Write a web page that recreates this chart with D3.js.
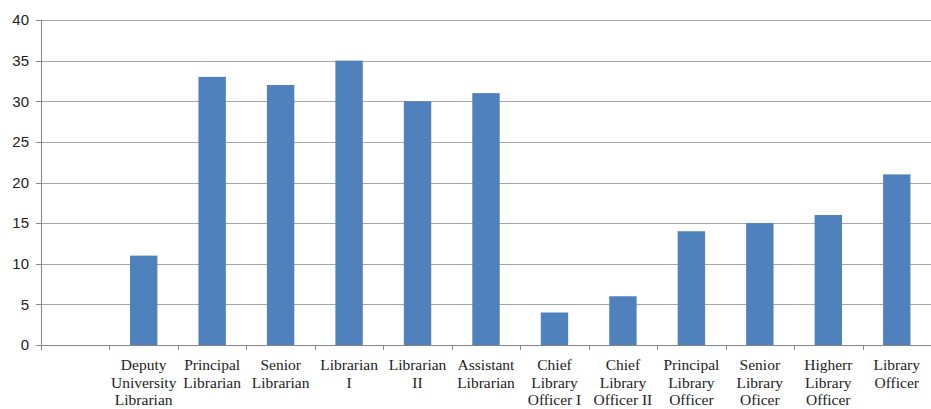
<!DOCTYPE html>
<html>
<head>
<meta charset="utf-8">
<script src="https://cdn.jsdelivr.net/npm/d3@7"></script>
<style>
body { margin: 0; background: #fff; }
</style>
</head>
<body>
<svg id="mainSvg" width="931" height="409"></svg>
<script>
var categories = ["", "Deputy University Librarian", "Principal Librarian", "Senior Librarian",
	"Librarian I", "Librarian II", "Assistant Librarian", "Chief Library Officer I",
	"Chief Library Officer II", "Principal Library Officer", "Senior Library Oficer",
	"Higherr Library Officer", "Library Officer"];
var labelLines = [[], ["Deputy", "University", "Librarian"], ["Principal", "Librarian"], ["Senior", "Librarian"],
	["Librarian", "I"], ["Librarian", "II"], ["Assistant", "Librarian"], ["Chief", "Library", "Officer I"],
	["Chief", "Library", "Officer II"], ["Principal", "Library", "Officer"], ["Senior", "Library", "Oficer"],
	["Higherr", "Library", "Officer"], ["Library", "Officer"]];
var values = [null, 11, 33, 32, 35, 30, 31, 4, 6, 14, 15, 16, 21];
var yTicks = [0, 5, 10, 15, 20, 25, 30, 35, 40];

var svg = d3.select("#mainSvg");
var plotLeft = 41, plotRight = 931, plotTop = 20, plotBottom = 345;

var x = d3.scaleBand().domain(categories.map(function(d, i) { return i; }))
	.range([plotLeft, plotRight]).paddingInner(0.6).paddingOuter(0.3);
var y = d3.scaleLinear().domain([0, 40]).range([plotBottom, plotTop]);

// gridlines
svg.selectAll("line.grid").data(yTicks.slice(1)).enter().append("line")
	.attr("class", "grid")
	.attr("x1", plotLeft).attr("x2", plotRight)
	.attr("y1", function(d) { return Math.round(y(d)) + 0.5; }).attr("y2", function(d) { return Math.round(y(d)) + 0.5; })
	.attr("stroke", "#a6a6a6").attr("stroke-width", 1);

// y labels
svg.selectAll("text.ylab").data(yTicks).enter().append("text")
	.attr("class", "ylab")
	.attr("x", 29).attr("y", function(d) { return y(d); })
	.attr("dy", "0.35em").attr("text-anchor", "end")
	.attr("font-family", "Liberation Sans, Arial, sans-serif").attr("font-size", 15)
	.attr("fill", "#222")
	.text(function(d) { return d; });

// y axis line + small ticks
svg.append("line").attr("x1", plotLeft + 0.5).attr("x2", plotLeft + 0.5).attr("y1", plotTop).attr("y2", plotBottom)
	.attr("stroke", "#868686");
svg.selectAll("line.ytick").data(yTicks).enter().append("line")
	.attr("class", "ytick")
	.attr("x1", plotLeft - 5).attr("x2", plotLeft)
	.attr("y1", function(d) { return Math.round(y(d)) + 0.5; }).attr("y2", function(d) { return Math.round(y(d)) + 0.5; })
	.attr("stroke", "#868686");

// bars
svg.selectAll("rect.bar").data(values.map(function(v, i) { return {i: i, v: v}; }).filter(function(d) { return d.v != null; }))
	.enter().append("rect")
	.attr("class", "bar")
	.attr("x", function(d) { return x(d.i); })
	.attr("width", x.bandwidth())
	.attr("y", function(d) { return y(d.v); })
	.attr("height", function(d) { return plotBottom - y(d.v); })
	.attr("fill", "#4f81bd");

// x axis line and category ticks
svg.append("line").attr("x1", plotLeft).attr("x2", plotRight).attr("y1", plotBottom + 0.5).attr("y2", plotBottom + 0.5)
	.attr("stroke", "#868686");
var bounds = d3.range(categories.length + 1).map(function(i) { return plotLeft + i * (plotRight - plotLeft) / categories.length; });
svg.selectAll("line.xtick").data(bounds).enter().append("line")
	.attr("class", "xtick")
	.attr("x1", function(d) { return Math.round(d) + 0.5; }).attr("x2", function(d) { return Math.round(d) + 0.5; })
	.attr("y1", plotBottom).attr("y2", plotBottom + 5)
	.attr("stroke", "#868686");

// x labels
var lab = svg.selectAll("text.xlab").data(labelLines).enter().append("text")
	.attr("class", "xlab")
	.attr("text-anchor", "middle")
	.attr("font-family", "Liberation Serif, Times New Roman, serif").attr("font-size", 15.5)
	.attr("fill", "#222");
lab.each(function(lines, i) {
	var cx = x(i) + x.bandwidth() / 2;
	d3.select(this).selectAll("tspan").data(lines).enter().append("tspan")
		.attr("x", cx)
		.attr("y", function(d, j) { return 370 + j * 17.5; })
		.text(function(d) { return d; });
});
</script>
</body>
</html>
